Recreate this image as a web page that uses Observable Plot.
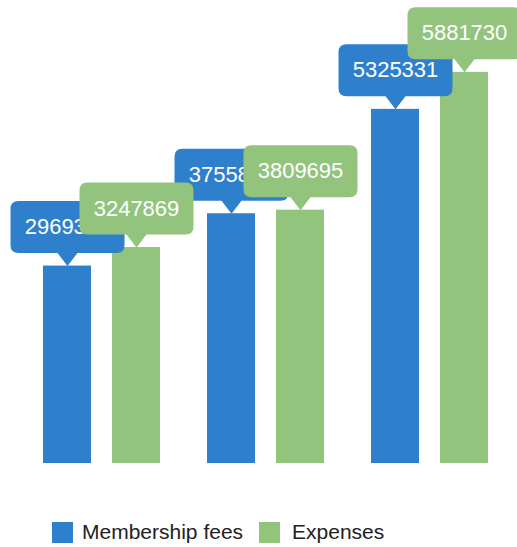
<!DOCTYPE html>
<html>
<head>
<meta charset="utf-8">
<script src="https://cdn.jsdelivr.net/npm/d3@7"></script>
<script src="https://cdn.jsdelivr.net/npm/@observablehq/plot@0.6"></script>
<style>
  html, body { margin: 0; padding: 0; background: #fff; }
  body { width: 517px; height: 547px; overflow: hidden; font-family: "Liberation Sans", Arial, sans-serif; }
  #legend { display: flex; align-items: center; padding-top: 30px; padding-left: 52px; font-size: 21px; color: #222; }
  .sw { width: 21px; height: 21px; display: inline-block; }
</style>
</head>
<body>
<div id="chart"></div>
<script>
const groups = ["Group 1", "Group 2", "Group 3"];
const series = ["Membership fees", "Expenses"];
const membershipFees = [2969300, 3755800, 5325331];
const expenses = [3247869, 3809695, 5881730];
const colors = ["#2f80cc", "#93c47d"];

const rows = [];
groups.forEach((g, i) => {
  rows.push({group: g, series: series[0], value: membershipFees[i]});
  rows.push({group: g, series: series[1], value: expenses[i]});
});

// callout shape: pointer tip at the origin (bar top), box above it
const callout = {
  draw(ctx) {
    const hw = 57, ph = 13, hb = 10, h = 52, r = 8;
    const b = -ph, t = -ph - h;
    ctx.moveTo(0, 0);
    ctx.lineTo(-hb, b);
    ctx.lineTo(-hw + r, b);
    ctx.quadraticCurveTo(-hw, b, -hw, b - r);
    ctx.lineTo(-hw, t + r);
    ctx.quadraticCurveTo(-hw, t, -hw + r, t);
    ctx.lineTo(hw - r, t);
    ctx.quadraticCurveTo(hw, t, hw, t + r);
    ctx.lineTo(hw, b - r);
    ctx.quadraticCurveTo(hw, b, hw - r, b);
    ctx.lineTo(hb, b);
    ctx.closePath();
  }
};

const labelMarks = series.flatMap((s) => {
  const d = rows.filter((r) => r.series === s);
  return [
    Plot.dot(d, {fx: "group", x: "series", y: "value", fill: "series", r: 10, symbol: callout, stroke: "none"}),
    Plot.text(d, {fx: "group", x: "series", y: "value", text: (r) => String(r.value), dy: -39, fill: "white", fontSize: 22, fontFamily: "Liberation Sans, Arial, sans-serif"})
  ];
});

const chart = Plot.plot({
  width: 517,
  height: 490,
  marginLeft: 43,
  marginRight: 29,
  marginTop: 64,
  marginBottom: 27,
  style: {fontFamily: "Liberation Sans, Arial, sans-serif", background: "white", overflow: "visible"},
  fx: {domain: groups, paddingInner: 47 / 164, paddingOuter: 0, axis: null, label: null},
  x: {domain: series, paddingInner: 21 / 69, paddingOuter: 0, axis: null, label: null},
  y: {domain: [0, 6000000], axis: null, label: null},
  color: {domain: series, range: colors},
  marks: [
    Plot.barY(rows, {fx: "group", x: "series", y: "value", fill: "series"}),
    ...labelMarks
  ]
});

document.getElementById("chart").appendChild(chart);

const legend = document.createElement("div");
legend.id = "legend";
legend.innerHTML =
  `<span class="sw" style="background:${colors[0]}"></span><span style="margin-left:9px">${series[0]}</span>` +
  `<span class="sw" style="background:${colors[1]};margin-left:16px"></span><span style="margin-left:12px">${series[1]}</span>`;
document.body.appendChild(legend);
</script>
</body>
</html>
